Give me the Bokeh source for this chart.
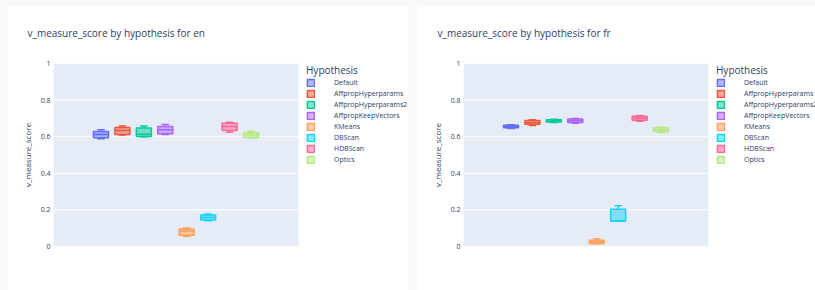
from bokeh.plotting import figure
from bokeh.models import Range1d, FixedTicker, Legend, LegendItem, Title
from bokeh.embed import file_html
from bokeh.resources import INLINE

hypotheses = ["Default", "AffpropHyperparams", "AffpropHyperparams2", "AffpropKeepVectors",
              "KMeans", "DBScan", "HDBScan", "Optics"]
colors = ["#636EFA", "#EF553B", "#00CC96", "#AB63FA", "#FFA15A", "#19D3F3", "#FF6692", "#B6E880"]

en_min = [0.589, 0.609, 0.600, 0.612, 0.056, 0.141, 0.625, 0.594]
en_q1 = [0.594, 0.612, 0.601, 0.616, 0.062, 0.145, 0.634, 0.596]
en_med = [0.612, 0.634, 0.614, 0.638, 0.083, 0.159, 0.656, 0.609]
en_q3 = [0.629, 0.650, 0.647, 0.656, 0.096, 0.172, 0.674, 0.621]
en_max = [0.638, 0.658, 0.659, 0.667, 0.101, 0.178, 0.679, 0.630]

fr_min = [0.645, 0.661, 0.678, 0.674, 0.0145, 0.138, 0.685, 0.623]
fr_q1 = [0.649, 0.668, 0.681, 0.678, 0.016, 0.139, 0.690, 0.629]
fr_med = [0.656, 0.678, 0.687, 0.687, 0.025, 0.141, 0.701, 0.638]
fr_q3 = [0.663, 0.688, 0.692, 0.697, 0.034, 0.203, 0.712, 0.649]
fr_max = [0.665, 0.692, 0.696, 0.699, 0.042, 0.223, 0.716, 0.652]

y_ticks = [0, 0.2, 0.4, 0.6, 0.8, 1]
y_tick_labels = ["0", "0.2", "0.4", "0.6", "0.8", "1"]

FONT = "Open Sans"
TXT = "#2a3f5f"
PLOT_W = 245  # pixel width of the shaded plotting area


def make_panel(title, mins, q1s, meds, q3s, maxs, frame_w):
    x_end = -0.5 + frame_w / PLOT_W
    p = figure(frame_width=frame_w, frame_height=183, output_backend="svg",
               toolbar_location=None,
               x_range=Range1d(-0.5, x_end), y_range=Range1d(0, 1),
               min_border_left=46, min_border_right=0, min_border_top=57,
               min_border_bottom=44, title=None)
    p.background_fill_color = "white"
    p.border_fill_color = "white"
    p.outline_line_color = None

    spacer = Title(text=" ", text_font=FONT, text_font_size="12px", standoff=0)
    p.add_layout(spacer, "above")
    t = Title(text=title, align="left", text_font=FONT,
              text_font_size="10px", text_font_style="normal", text_color=TXT,
              offset=-26)
    p.add_layout(t, "above")

    # shaded plotting area and horizontal grid lines
    p.quad(left=[-0.5], right=[0.5], bottom=[0], top=[1],
           fill_color="#E5ECF6", line_color=None)
    p.segment(x0=[-0.5] * len(y_ticks), x1=[0.5] * len(y_ticks),
              y0=y_ticks, y1=y_ticks, line_color="white", line_width=1)

    p.xaxis.visible = False
    p.xgrid.visible = False
    p.ygrid.visible = False
    p.yaxis.ticker = FixedTicker(ticks=y_ticks)
    p.yaxis.major_label_overrides = {float(k): v for k, v in zip(y_ticks, y_tick_labels)}
    p.yaxis.axis_line_color = None
    p.yaxis.major_tick_line_color = None
    p.yaxis.minor_tick_line_color = None
    p.yaxis.major_tick_out = 0
    p.yaxis.major_tick_in = 0
    p.yaxis.minor_tick_out = 0
    p.yaxis.major_label_text_font = FONT
    p.yaxis.major_label_text_font_size = "7px"
    p.yaxis.major_label_text_color = TXT
    p.yaxis.major_label_standoff = 3
    p.yaxis.axis_label = "v_measure_score"
    p.yaxis.axis_label_text_font = FONT
    p.yaxis.axis_label_text_font_size = "8px"
    p.yaxis.axis_label_text_font_style = "normal"
    p.yaxis.axis_label_text_color = TXT
    p.yaxis.axis_label_standoff = 5

    n = len(hypotheses)
    group_w = 0.7
    slot = group_w / n
    bw = slot * 0.7
    items = []
    for i, (h, c) in enumerate(zip(hypotheses, colors)):
        x = -group_w / 2 + slot * (i + 0.5)
        p.segment(x0=[x, x], y0=[q3s[i], q1s[i]], x1=[x, x], y1=[maxs[i], mins[i]],
                  line_color=c, line_width=1.5)
        p.segment(x0=[x - bw / 4, x - bw / 4], y0=[maxs[i], mins[i]],
                  x1=[x + bw / 4, x + bw / 4], y1=[maxs[i], mins[i]],
                  line_color=c, line_width=1.5)
        r = p.vbar(x=[x], width=bw, bottom=[q1s[i]], top=[q3s[i]],
                   fill_color=c, fill_alpha=0.5, line_color=c, line_width=1.5)
        p.segment(x0=[x - bw / 2], y0=[meds[i]], x1=[x + bw / 2], y1=[meds[i]],
                  line_color=c, line_width=1.5)
        items.append(LegendItem(label=h, renderers=[r]))

    leg = Legend(items=items, title="Hypothesis", location=(PLOT_W + 8, 81),
                 title_text_font=FONT, title_text_font_size="10px",
                 title_text_font_style="normal", title_text_color=TXT,
                 label_text_font=FONT, label_text_font_size="7px", label_text_color=TXT,
                 glyph_width=9, glyph_height=9, label_height=11, label_standoff=19,
                 spacing=0, padding=3, margin=0, title_standoff=0,
                 background_fill_alpha=0, border_line_color=None)
    p.add_layout(leg)
    return p


p1 = make_panel("v_measure_score by hypothesis for en", en_min, en_q1, en_med, en_q3, en_max, 355)
p2 = make_panel("v_measure_score by hypothesis for fr", fr_min, fr_q1, fr_med, fr_q3, fr_max, 352)

html = file_html([p1, p2], INLINE)
css = ("<style>html, body { background-color: #f8f9fa !important; margin: 0 !important; }"
       " body { display: flex !important; flex-direction: row; align-items: flex-start;"
       " gap: 9px; padding: 6px 0 0 7px !important; box-sizing: border-box; }"
       " body > * { flex-shrink: 0; }</style></head>")
html = html.replace("</head>", css, 1)
open("out.html", "w").write(html)
